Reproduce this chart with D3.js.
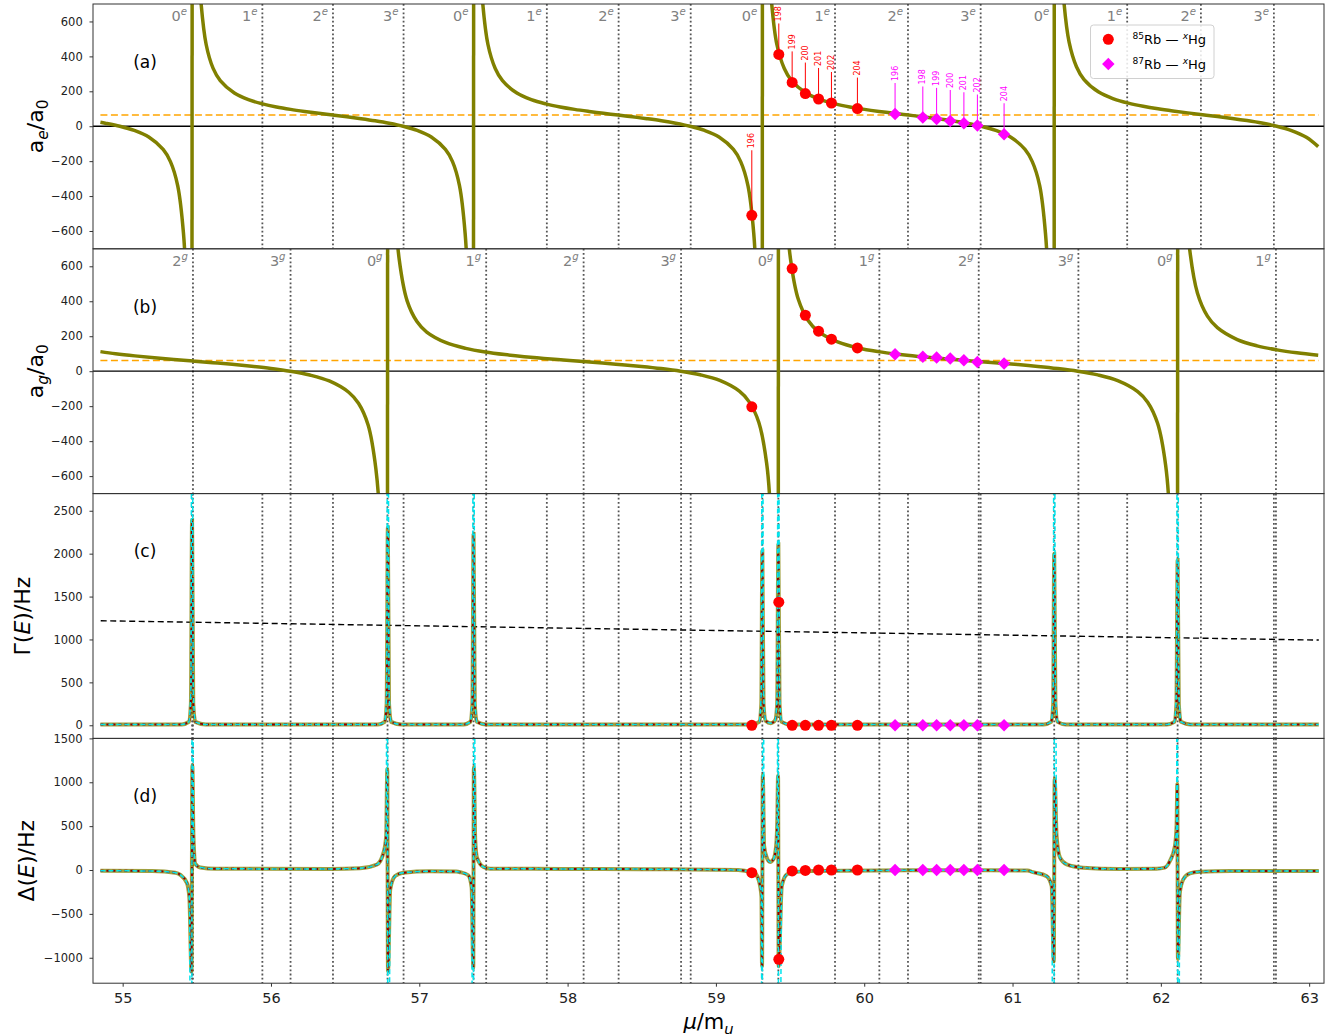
<!DOCTYPE html>
<html>
<head>
<meta charset="utf-8">
<script src="https://cdn.jsdelivr.net/npm/d3@7"></script>
<style>
  body { margin: 0; background: #fff; }
  text { font-family: "DejaVu Sans", sans-serif; }
</style>
</head>
<body>
<div id="plot"></div>
<script>
// ---- data ----
const hgMass = [196, 198, 199, 200, 201, 202, 204];
const mu85 = [59.242, 59.424, 59.514, 59.603, 59.692, 59.779, 59.954];
const mu87 = [60.208, 60.395, 60.488, 60.580, 60.672, 60.763, 60.943];
const ae85 = [-510, 411, 251, 187, 156, 133, 101];
const ae87 = [70, 50, 42, 30, 17, 4, -46];
const ag85 = [-204, 5000, 587, 320, 229, 183, 133];
const ag87 = [97, 82, 78, 72, 63, 53, 44];
const gam85 = [0, 1434, 0, 0, 0, 0, 0];
const gam87 = [0, 0, 0, 0, 0, 0, 0];
const del85 = [-30, -1018, -10, -5, 0, 0, 0];
const del87 = [0, 0, 0, 0, 0, 0, 0];

// vertical level lines (e = excited panel, g = ground panel)
const eLineMu = [55.468, 55.942, 56.418, 56.894, 57.366, 57.860, 58.344, 58.830,
                 59.313, 59.803, 60.295, 60.785, 61.281, 61.773, 62.270, 62.762];
const eLineLevel = ["0", "1", "2", "3", "0", "1", "2", "3", "0", "1", "2", "3", "0", "1", "2", "3"];
const gLineMu = [55.474, 56.132, 56.786, 57.451, 58.108, 58.765, 59.421, 60.102,
                 60.772, 61.444, 62.113, 62.776];
const gLineLevel = ["2", "3", "0", "1", "2", "3", "0", "1", "2", "3", "0", "1"];

const abarE = 64;
const abarG = 61;
const abarMu = [54.85, 63.065];

// a_e(mu) curve
const aeCurve = [
  [54.850, 22.6], [54.883, 17.5], [54.981, 0], [55.078, -24.1], [55.176, -61.6], [55.273, -133],
  [55.322, -202.6], [55.371, -340], [55.410, -613], [55.429, -954], [55.464, -10000],
  [55.472, 10000], [55.506, 1082], [55.525, 741], [55.563, 468], [55.610, 331], [55.658, 261],
  [55.753, 190], [55.848, 152], [55.943, 128], [56.037, 110.5], [56.132, 96.6], [56.227, 84.8],
  [56.322, 74.1], [56.417, 64], [56.512, 53.9], [56.607, 43.2], [56.702, 31.4], [56.797, 17.5],
  [56.892, 0], [56.986, -24.1], [57.081, -61.6], [57.176, -133], [57.224, -202.6],
  [57.271, -340], [57.309, -613], [57.328, -954], [57.362, -10000],
  [57.370, 10000], [57.405, 1082], [57.424, 741], [57.463, 468], [57.512, 331], [57.561, 261],
  [57.658, 190], [57.755, 152], [57.853, 128], [57.950, 110.5], [58.047, 96.6], [58.145, 84.8],
  [58.242, 74.1], [58.340, 64], [58.437, 53.9], [58.534, 43.2], [58.632, 31.4], [58.729, 17.5],
  [58.826, 0], [58.924, -24.1], [59.021, -61.6], [59.118, -133], [59.167, -202.6],
  [59.216, -340], [59.255, -613], [59.274, -954], [59.309, -10000],
  [59.317, 10000], [59.352, 1082], [59.372, 741], [59.411, 468], [59.461, 331], [59.510, 261],
  [59.608, 190], [59.707, 152], [59.805, 128], [59.903, 110.5], [60.002, 96.6], [60.100, 84.8],
  [60.199, 74.1], [60.297, 64], [60.395, 53.9], [60.494, 43.2], [60.592, 31.4], [60.691, 17.5],
  [60.789, 0], [60.887, -24.1], [60.986, -61.6], [61.084, -133], [61.133, -202.6],
  [61.183, -340], [61.222, -613], [61.242, -954], [61.277, -10000],
  [61.285, 10000], [61.321, 1115], [61.341, 764], [61.381, 483], [61.431, 341], [61.481, 269],
  [61.581, 196], [61.681, 157], [61.781, 132], [61.881, 114], [61.981, 99.6], [62.081, 87.4],
  [62.181, 76.5], [62.281, 66], [62.381, 55.5], [62.481, 44.6], [62.581, 32.4], [62.681, 18.1],
  [62.781, 0], [62.881, -24.8], [62.981, -63.6], [63.061, -117]
];

// a_g(mu) curve
const agCurve = [
  [54.850, 112], [54.952, 100.1], [55.083, 87.6], [55.214, 76.8], [55.345, 67.2], [55.476, 58],
  [55.607, 48.8], [55.738, 39.2], [55.869, 28.4], [56.000, 15.9], [56.131, 0], [56.262, -21.8],
  [56.393, -55.9], [56.524, -120.5], [56.590, -183.6], [56.655, -308], [56.707, -556],
  [56.734, -864], [56.781, -10000],
  [56.791, 10000], [56.839, 929.5], [56.865, 637], [56.918, 402], [56.984, 284], [57.050, 224],
  [57.181, 163], [57.313, 130.7], [57.445, 110], [57.577, 95], [57.708, 83], [57.840, 72.9],
  [57.972, 63.7], [58.104, 55], [58.235, 46.3], [58.367, 37.1], [58.499, 27], [58.631, 15],
  [58.762, 0], [58.894, -20.7], [59.026, -53], [59.158, -114.3], [59.223, -174],
  [59.289, -292], [59.342, -527], [59.368, -820], [59.416, -10000],
  [59.426, 10000], [59.475, 946], [59.502, 648], [59.556, 410], [59.623, 289], [59.690, 228],
  [59.825, 166], [59.959, 133], [60.094, 112], [60.229, 96.7], [60.363, 84.5], [60.498, 74.2],
  [60.632, 64.9], [60.767, 56], [60.902, 47.1], [61.036, 37.8], [61.171, 27.5], [61.305, 15.3],
  [61.440, 0], [61.575, -21.1], [61.709, -53.9], [61.844, -116.4], [61.911, -177],
  [61.978, -298], [62.032, -536], [62.059, -834], [62.108, -10000],
  [62.118, 10000], [62.167, 1031], [62.193, 706], [62.247, 446], [62.314, 315], [62.381, 249],
  [62.515, 181], [62.649, 145], [62.783, 122], [62.917, 105], [63.061, 91]
];

// Gamma(E): [mu, model, cyan model]
const gammaRows = [
  [54.850, 8, 8], [55.400, 10, 10], [55.446, 40, 40], [55.460, 250, 400], [55.468, 2392, 6000],
  [55.476, 250, 400], [55.490, 40, 40], [55.560, 10, 10],
  [56.720, 10, 10], [56.766, 40, 40], [56.780, 250, 400], [56.788, 2306, 6000],
  [56.796, 250, 400], [56.810, 40, 40], [56.880, 10, 10],
  [57.300, 10, 10], [57.344, 40, 40], [57.358, 250, 400], [57.366, 2229, 6000],
  [57.374, 250, 400], [57.388, 40, 40], [57.450, 10, 10],
  [59.240, 10, 10], [59.292, 40, 40], [59.306, 250, 400], [59.313, 2035, 6000],
  [59.321, 250, 400], [59.336, 50, 50], [59.370, 25, 25], [59.400, 60, 60],
  [59.413, 250, 400], [59.421, 2110, 6000], [59.429, 250, 400], [59.443, 40, 40], [59.500, 10, 10],
  [61.210, 10, 10], [61.260, 40, 40], [61.274, 250, 400], [61.281, 2000, 6000],
  [61.289, 250, 400], [61.304, 40, 40], [61.360, 10, 10],
  [62.040, 10, 10], [62.091, 40, 40], [62.105, 250, 400], [62.113, 1927, 6000],
  [62.121, 250, 400], [62.135, 40, 40], [62.200, 10, 10], [63.065, 8, 8]
];
const gammaRef = [[54.852, 1218], [63.065, 993]];

// Delta(E): [mu, model, cyan model]
const deltaRows = [
  [54.850, -8, -8], [55.200, -12, -12], [55.355, -30, -30], [55.389, -55, -55],
  [55.434, -150, -150], [55.450, -320, -320], [55.464, -1160, -6000], [55.470, 1190, 6000],
  [55.477, 400, 400], [55.490, 70, 70], [55.524, 28, 28], [55.625, 14, 14], [56.400, 12, 12],
  [56.600, 20, 20], [56.715, 63, 63], [56.759, 198, 198], [56.777, 389, 389],
  [56.784, 1151, 6000], [56.789, -1154, -6000], [56.804, -221, -221], [56.837, -69, -69],
  [56.891, -31, -31], [57.070, -15, -15], [57.250, -18, -18],
  [57.276, -25, -25], [57.330, -60, -60], [57.353, -200, -200], [57.364, -1117, -6000],
  [57.368, 1170, 6000], [57.377, 350, 350], [57.389, 141, 141], [57.433, 34, 34],
  [57.478, 15, 15], [58.500, 10, 10],
  [59.150, 0, 0], [59.246, -30, -30], [59.264, -40, -40], [59.287, -107, -107],
  [59.307, -300, -300], [59.311, -1097, -6000], [59.316, 1082, 6000], [59.325, 274, 274],
  [59.343, 141, 141], [59.365, 91, 91], [59.388, 122, 122], [59.406, 274, 274],
  [59.414, 579, 579], [59.419, 1074, 6000], [59.423, -1097, -6000], [59.444, -183, -183],
  [59.478, -50, -50], [59.522, -25, -25], [59.640, -10, -10], [60.500, -3, -3],
  [61.100, -5, -5], [61.138, -25, -25], [61.230, -70, -70], [61.264, -183, -183],
  [61.278, -1040, -6000], [61.284, 1036, 6000], [61.297, 389, 389], [61.320, 141, 141],
  [61.365, 65, 65], [61.475, 27, 27], [61.720, 12, 12],
  [61.970, 15, 15], [62.026, 27, 27], [62.061, 103, 103], [62.095, 274, 274],
  [62.106, 503, 503], [62.111, 979, 6000], [62.115, -1013, -6000], [62.128, -259, -259],
  [62.151, -107, -107], [62.196, -38, -38], [62.263, -19, -19], [62.470, -11, -11],
  [63.065, -10, -10]
];

const aTicks = [-600, -400, -200, 0, 200, 400, 600];
const gammaTicks = [0, 500, 1000, 1500, 2000, 2500];
const deltaTicks = [-1000, -500, 0, 500, 1000, 1500];
const muTicks = [55, 56, 57, 58, 59, 60, 61, 62, 63];

// ---- layout ----
const width = 1340, height = 1036;
const left = 93, right = 1324, panelH = 244.8;

const svg = d3.select("#plot").append("svg")
  .attr("width", width)
  .attr("height", height);

const x = d3.scaleLinear().domain([54.80, 63.10]).range([left, right]);

const panels = [
  { top: 4, dom: [-702, 700], ticks: aTicks },
  { top: 248.8, dom: [-700, 700], ticks: aTicks },
  { top: 493.6, dom: [-153, 2700], ticks: gammaTicks },
  { top: 738.4, dom: [-1290, 1500], ticks: deltaTicks }
];

const defs = svg.append("defs");
panels.forEach((p, i) => {
  p.y = d3.scaleLinear().domain(p.dom).range([p.top + panelH, p.top]);
  defs.append("clipPath").attr("id", "clip" + i)
    .append("rect")
    .attr("x", left).attr("y", p.top)
    .attr("width", right - left).attr("height", panelH);
  p.g = svg.append("g").attr("clip-path", `url(#clip${i})`);
  p.over = svg.append("g");
});

// rich text with sub/superscripts
function rich(sel, parts, size) {
  let cur = 0;
  parts.forEach(([t, kind, ital]) => {
    const ts = sel.append("tspan").text(t);
    const off = kind === "sup" ? -0.38 * size : kind === "sub" ? 0.22 * size : 0;
    if (off !== cur) ts.attr("dy", off - cur);
    cur = off;
    if (kind) ts.attr("font-size", size * 0.7);
    if (ital) ts.attr("font-style", "italic");
  });
}

const lineOf = (p, col) => d3.line()
  .x(d => x(d[0]))
  .y(d => p.y(d[col]))
  .curve(d3.curveMonotoneX);

// split a curve with poles into smooth branches plus the jump segments
function splitAtPoles(curve) {
  const branches = [[curve[0]]], jumps = [];
  for (let i = 1; i < curve.length; i++) {
    const a = curve[i - 1], b = curve[i];
    if (a[1] <= -10000 && b[1] >= 10000) {
      jumps.push([a, b]);
      branches.push([]);
    }
    branches[branches.length - 1].push(b);
  }
  return { branches, jumps };
}

// dotted level lines
function levelLines(p, mus) {
  p.g.selectAll(null).data(mus).enter().append("line")
    .attr("x1", d => x(d)).attr("x2", d => x(d))
    .attr("y1", p.top).attr("y2", p.top + panelH)
    .attr("stroke", "#555")
    .attr("stroke-width", 1.8)
    .attr("stroke-dasharray", "1.8,2.4");
}
levelLines(panels[0], eLineMu);
levelLines(panels[1], gLineMu);
levelLines(panels[2], eLineMu.concat(gLineMu));
levelLines(panels[3], eLineMu.concat(gLineMu));

// level labels
function levelLabels(p, mus, levels, sup) {
  mus.forEach((m, i) => {
    const t = p.over.append("text")
      .attr("x", x(m) - 5)
      .attr("y", p.top + 16.8)
      .attr("text-anchor", "end")
      .attr("font-size", 14.5)
      .attr("fill", "#808080");
    rich(t, [[levels[i]], [sup, "sup", true]], 14.5);
  });
}
levelLabels(panels[0], eLineMu, eLineLevel, "e");
levelLabels(panels[1], gLineMu, gLineLevel, "g");

// panels (a) and (b): zero line, abar, curve
[[panels[0], aeCurve, abarE], [panels[1], agCurve, abarG]].forEach(([p, curve, abar]) => {
  p.g.append("line")
    .attr("x1", left).attr("x2", right)
    .attr("y1", p.y(0)).attr("y2", p.y(0))
    .attr("stroke", "#000").attr("stroke-width", 1.3);
  p.g.append("line")
    .attr("x1", x(abarMu[0])).attr("x2", x(abarMu[1]))
    .attr("y1", p.y(abar)).attr("y2", p.y(abar))
    .attr("stroke", "#ffa500").attr("stroke-width", 1.6)
    .attr("stroke-dasharray", "7,3.5");

  const { branches, jumps } = splitAtPoles(curve);
  const smooth = d3.line()
    .x(d => x(d[0])).y(d => p.y(d[1]))
    .curve(d3.curveCatmullRom.alpha(0.5));
  const straight = d3.line().x(d => x(d[0])).y(d => p.y(d[1]));
  branches.forEach(b => {
    p.g.append("path").datum(b).attr("d", smooth)
      .attr("fill", "none").attr("stroke", "#808000")
      .attr("stroke-width", 3.5).attr("stroke-linejoin", "round");
  });
  jumps.forEach(j => {
    p.g.append("path").datum(j).attr("d", straight)
      .attr("fill", "none").attr("stroke", "#808000")
      .attr("stroke-width", 3.5);
  });
});

// panel (c) reference line
panels[2].g.append("path")
  .datum(gammaRef)
  .attr("d", d3.line().x(d => x(d[0])).y(d => panels[2].y(d[1])))
  .attr("fill", "none")
  .attr("stroke", "#000")
  .attr("stroke-width", 1.4)
  .attr("stroke-dasharray", "6,3.5");

// panels (c) and (d): three overlaid models
[[panels[2], gammaRows], [panels[3], deltaRows]].forEach(([p, rows]) => {
  p.g.append("path").datum(rows).attr("d", lineOf(p, 1))
    .attr("fill", "none").attr("stroke", "#808000")
    .attr("stroke-width", 4).attr("stroke-opacity", 0.75);
  p.g.append("path").datum(rows).attr("d", lineOf(p, 1))
    .attr("fill", "none").attr("stroke", "#8b0000")
    .attr("stroke-width", 2).attr("stroke-dasharray", "3,3");
  p.g.append("path").datum(rows).attr("d", lineOf(p, 2))
    .attr("fill", "none").attr("stroke", "#00e5ee")
    .attr("stroke-width", 1.5).attr("stroke-dasharray", "5,3");
});

// annotations in (a)
const pa = panels[0];
function annotate(mus, vals, color, firstLift) {
  mus.forEach((m, i) => {
    const px = x(m), py = pa.y(vals[i]);
    const lift = i === 0 ? firstLift : 33;
    const yb = py - lift;
    pa.over.append("line")
      .attr("x1", px).attr("x2", px)
      .attr("y1", yb + 2).attr("y2", py)
      .attr("stroke", color).attr("stroke-width", 1);
    pa.over.append("text")
      .attr("transform", `translate(${px},${yb}) rotate(-90)`)
      .attr("dominant-baseline", "central")
      .attr("font-size", 8)
      .attr("fill", color)
      .text(hgMass[i]);
  });
}
annotate(mu85, ae85, "#ff0000", 67);
annotate(mu87, ae87, "#ff00ff", 33);

// markers
const diamond = d3.symbol().type(d3.symbolSquare).size(78);
const series = [[ae85, ae87], [ag85, ag87], [gam85, gam87], [del85, del87]];
panels.forEach((p, i) => {
  const [v85, v87] = series[i];
  const layer = p.g;
  layer.selectAll(null).data(mu85).enter().append("circle")
    .attr("cx", d => x(d))
    .attr("cy", (d, j) => p.y(v85[j]))
    .attr("r", 5.5)
    .attr("fill", "#ff0000");
  layer.selectAll(null).data(mu87).enter().append("path")
    .attr("d", diamond)
    .attr("transform", (d, j) => `translate(${x(d)},${p.y(v87[j])}) rotate(45)`)
    .attr("fill", "#ff00ff");
});

// axes
panels.forEach((p, i) => {
  const ax = svg.append("g")
    .attr("transform", `translate(${left},0)`)
    .call(d3.axisLeft(p.y).tickValues(p.ticks).tickSize(3.5).tickPadding(6.8)
      .tickFormat(d3.format("d")));
  ax.attr("font-family", "DejaVu Sans");
  ax.select(".domain").remove();
  ax.selectAll("line").attr("stroke", "#333");
  ax.selectAll("text").attr("font-size", 11.5).attr("fill", "#222");

  svg.append("rect")
    .attr("x", left).attr("y", p.top)
    .attr("width", right - left).attr("height", panelH)
    .attr("fill", "none").attr("stroke", "#333").attr("stroke-width", 1);
});

const xAx = svg.append("g")
  .attr("transform", `translate(0,${panels[3].top + panelH})`)
  .call(d3.axisBottom(x).tickValues(muTicks).tickSize(3.5).tickPadding(6.5)
    .tickFormat(d3.format("d")));
xAx.attr("font-family", "DejaVu Sans");
xAx.select(".domain").remove();
xAx.selectAll("line").attr("stroke", "#333");
xAx.selectAll("text").attr("font-size", 14.5).attr("fill", "#222");

// axis titles
const yTitles = [
  { x: 43, parts: [["a"], ["e", "sub", true], ["/a"], ["0", "sub"]] },
  { x: 43, parts: [["a"], ["g", "sub", true], ["/a"], ["0", "sub"]] },
  { x: 29.5, parts: [["Γ("], ["E", "", true], [")/Hz"]] },
  { x: 33.5, parts: [["Δ("], ["E", "", true], [")/Hz"]] }
];
panels.forEach((p, i) => {
  const t = svg.append("text")
    .attr("transform", `translate(${yTitles[i].x},${p.top + panelH / 2}) rotate(-90)`)
    .attr("text-anchor", "middle")
    .attr("font-size", 22)
    .attr("fill", "#000");
  rich(t, yTitles[i].parts, 22);
});

const xt = svg.append("text")
  .attr("x", (left + right) / 2)
  .attr("y", 1029)
  .attr("text-anchor", "middle")
  .attr("font-size", 21)
  .attr("fill", "#000");
rich(xt, [["μ", "", true], ["/m"], ["u", "sub", true]], 21);

// panel letters
const letters = ["(a)", "(b)", "(c)", "(d)"];
panels.forEach((p, i) => {
  svg.append("text")
    .attr("x", 145)
    .attr("y", p.top + 63.8)
    .attr("text-anchor", "middle")
    .attr("font-size", 17)
    .attr("fill", "#000")
    .text(letters[i]);
});

// legend
const lg = svg.append("g");
lg.append("rect")
  .attr("x", 1090.5).attr("y", 25)
  .attr("width", 123.5).attr("height", 53.5)
  .attr("rx", 3)
  .attr("fill", "#fff").attr("fill-opacity", 0.85)
  .attr("stroke", "#d0d0d0");
lg.append("circle").attr("cx", 1108.3).attr("cy", 39.3).attr("r", 5.5).attr("fill", "#ff0000");
lg.append("path").attr("d", diamond)
  .attr("transform", "translate(1108.3,64) rotate(45)")
  .attr("fill", "#ff00ff");
[["85", 44], ["87", 68.5]].forEach(([iso, yy]) => {
  const t = lg.append("text")
    .attr("x", 1132.5).attr("y", yy)
    .attr("font-size", 13).attr("fill", "#000");
  rich(t, [[iso, "sup"], ["Rb — "], ["x", "sup", true], ["Hg"]], 13);
});
</script>
</body>
</html>
